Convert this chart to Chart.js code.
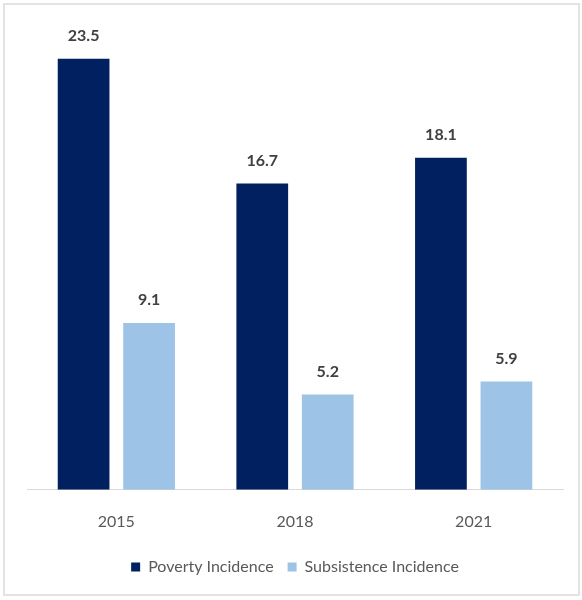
<!DOCTYPE html>
<html>
<head>
<meta charset="utf-8">
<script src="https://cdn.jsdelivr.net/npm/chart.js@4"></script>
<style>
  body { margin: 0; background: #fff; }
  #frame { position: absolute; left: 3px; top: 3px; width: 573px; height: 589px; border: 2px solid #e3e3e3; }
  #wrap { position: absolute; left: 0; top: 0; width: 582px; height: 600px; }
</style>
</head>
<body>
<div id="frame"></div>
<div id="wrap"><canvas id="bars"></canvas></div>
<script>
const years = ['2015', '2018', '2021'];
const poverty = [23.5, 16.7, 18.1];
const subsistence = [9.1, 5.2, 5.9];

// values on top of each bar
const barValues = {
  id: 'barValues',
  afterDatasetsDraw(chart) {
    const c = chart.ctx;
    c.save();
    c.font = 'bold 16px Lato';
    c.fillStyle = '#404040';
    c.textAlign = 'center';
    c.textBaseline = 'middle';
    chart.data.datasets.forEach((ds, i) => {
      chart.getDatasetMeta(i).data.forEach((bar, j) => {
        c.fillText(ds.data[j].toFixed(1), bar.x, bar.y - 23);
      });
    });
    c.restore();
  }
};

const ctx = document.getElementById('bars');
const chart = new Chart(ctx, {
  type: 'bar',
  data: {
    labels: years,
    datasets: [{
      label: 'Poverty Incidence',
      data: poverty,
      backgroundColor: '#002060'
    }, {
      label: 'Subsistence Incidence',
      data: subsistence,
      backgroundColor: '#9dc3e6'
    }]
  },
  options: {
    responsive: true,
    maintainAspectRatio: false,
    animation: false,
    categoryPercentage: 0.733,
    barPercentage: 0.79,
    layout: { padding: { left: 27, right: 19, top: 13, bottom: 15 } },
    plugins: {
      tooltip: { enabled: false },
      legend: {
        position: 'bottom',
        labels: {
          boxWidth: 9,
          boxHeight: 9,
          padding: 14,
          color: '#595959',
          font: { family: 'Lato', size: 16 }
        }
      }
    },
    scales: {
      x: {
        grid: { display: false },
        border: { color: '#d9d9d9', width: 1 },
        ticks: { color: '#595959', padding: 14, font: { family: 'Lato', size: 16 } }
      },
      y: {
        display: false,
        min: 0,
        max: 26
      }
    }
  },
  plugins: [barValues]
});
</script>
</body>
</html>
